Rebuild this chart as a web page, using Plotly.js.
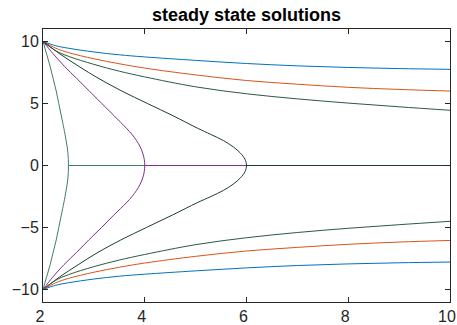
<!DOCTYPE html>
<html>
<head>
<meta charset="utf-8">
<script src="https://cdn.plot.ly/plotly-3.0.1.min.js"></script>
<style>
  html, body { margin: 0; padding: 0; background: #fff; }
  #chart { width: 457px; height: 325px; }
</style>
</head>
<body>
<div id="chart"></div>
<script>
// --- data ---

// curves that stay away from zero (y as function of x)
const xOuter = [2, 2.25, 2.5, 3, 3.5, 4, 5, 6, 7, 8, 9, 10];
const blueTop = [10, 9.65, 9.45, 9.15, 8.92, 8.75, 8.47, 8.22, 8.03, 7.9, 7.81, 7.75];
const orangeTop = [10, 9.45, 9.1, 8.6, 8.2, 7.85, 7.3, 6.85, 6.55, 6.3, 6.13, 6.0];
const greenTop = [10, 9.25, 8.8, 8.15, 7.6, 7.14, 6.34, 5.78, 5.37, 5.03, 4.73, 4.45];
const blueBot = [-10, -9.65, -9.45, -9.15, -8.92, -8.76, -8.49, -8.25, -8.06, -7.93, -7.84, -7.78];
const orangeBot = [-10, -9.45, -9.1, -8.6, -8.2, -7.86, -7.32, -6.89, -6.6, -6.35, -6.17, -6.04];
const greenBot = [-10, -9.25, -8.8, -8.15, -7.62, -7.17, -6.38, -5.82, -5.4, -5.06, -4.77, -4.5];

// C-shaped curves (x as function of y), vertex on y = 0
const yC = [10, 9, 8, 7, 6, 5, 4, 3, 2.5, 2, 1.5, 1, 0.5, 0,
            -0.5, -1, -1.5, -2, -2.5, -3, -4, -5, -6, -7, -8, -9, -10];
const xC6 = [2, 2.33, 2.7, 3.1, 3.55, 4.05, 4.56, 5.04, 5.3, 5.55, 5.74, 5.88, 5.97, 6.0,
             5.97, 5.88, 5.74, 5.55, 5.3, 5.03, 4.54, 4.03, 3.53, 3.08, 2.69, 2.32, 2];
const xC4 = [2, 2.2, 2.42, 2.665, 2.91, 3.155, 3.4, 3.64, 3.75, 3.84, 3.91, 3.96, 3.99, 4.0,
             3.99, 3.96, 3.91, 3.84, 3.75, 3.64, 3.39, 3.15, 2.9, 2.66, 2.41, 2.19, 2];
const xC25 = [2, 2.07, 2.14, 2.2, 2.26, 2.31, 2.36, 2.41, 2.433, 2.455, 2.475, 2.49, 2.498, 2.5,
              2.498, 2.49, 2.475, 2.455, 2.433, 2.41, 2.36, 2.31, 2.26, 2.2, 2.14, 2.07, 2];

// zero branch continuing from each vertex to the right edge
const zeroStarts = [2.5, 4, 6];
const xEnd = 10;

// tick values
const xTicks = [2, 4, 6, 8, 10];
const yTicks = [-10, -5, 0, 5, 10];

const BLUE = '#0072BD';
const ORANGE = '#D95319';
const GREEN = '#2a5a45';
const DARK = '#1b3d2f';
const PURPLE = '#7E2F8E';
const TEAL = '#467d62';

function line(x, y, color) {
  return {
    x: x, y: y, type: 'scatter', mode: 'lines',
    line: { color: color, width: 1, shape: 'spline', smoothing: 1 },
    hoverinfo: 'skip', showlegend: false,
  };
}

const traces = [
  line(xOuter, blueTop, BLUE),
  line(xOuter, orangeTop, ORANGE),
  line(xOuter, greenTop, GREEN),
  line(xC25, yC, TEAL),
  line([zeroStarts[0], xEnd], [0, 0], TEAL),
  line(xC4, yC, PURPLE),
  line([zeroStarts[1], xEnd], [0, 0], PURPLE),
  line(xC6, yC, DARK),
  line([zeroStarts[2], xEnd], [0, 0], DARK),
  line(xOuter, greenBot, GREEN),
  line(xOuter, orangeBot, ORANGE),
  line(xOuter, blueBot, BLUE),
];

const axisStyle = {
  showgrid: false,
  zeroline: false,
  showline: true,
  linecolor: '#262626',
  linewidth: 1,
  mirror: 'ticks',
  ticks: 'inside',
  ticklen: 5,
  tickcolor: '#262626',
  ticklabeloverflow: 'allow',
  tickfont: { family: 'Liberation Sans, Arial, sans-serif', size: 16, color: '#262626' },
};

const layout = {
  width: 457,
  height: 325,
  title: {
    text: '<b>steady state solutions</b>',
    font: { family: 'Liberation Sans, Arial, sans-serif', size: 18, color: '#000' },
    x: 0.5, xref: 'paper', xanchor: 'center',
    y: 1 - 15 / 325, yref: 'container', yanchor: 'middle',
  },
  // labels nudged left so the "10" at the right edge stays on the page
  xaxis: { ...axisStyle, range: [2, 10], tickvals: xTicks, ticklabelshift: -3 },
  yaxis: { ...axisStyle, range: [-11, 11], tickvals: yTicks, ticksuffix: ' ' },
  margin: { l: 43, r: 7, t: 29, b: 23 },
  plot_bgcolor: '#fff',
  paper_bgcolor: '#fff',
  showlegend: false,
};

Plotly.newPlot('chart', traces, layout, { displayModeBar: false, staticPlot: true });
</script>
</body>
</html>
